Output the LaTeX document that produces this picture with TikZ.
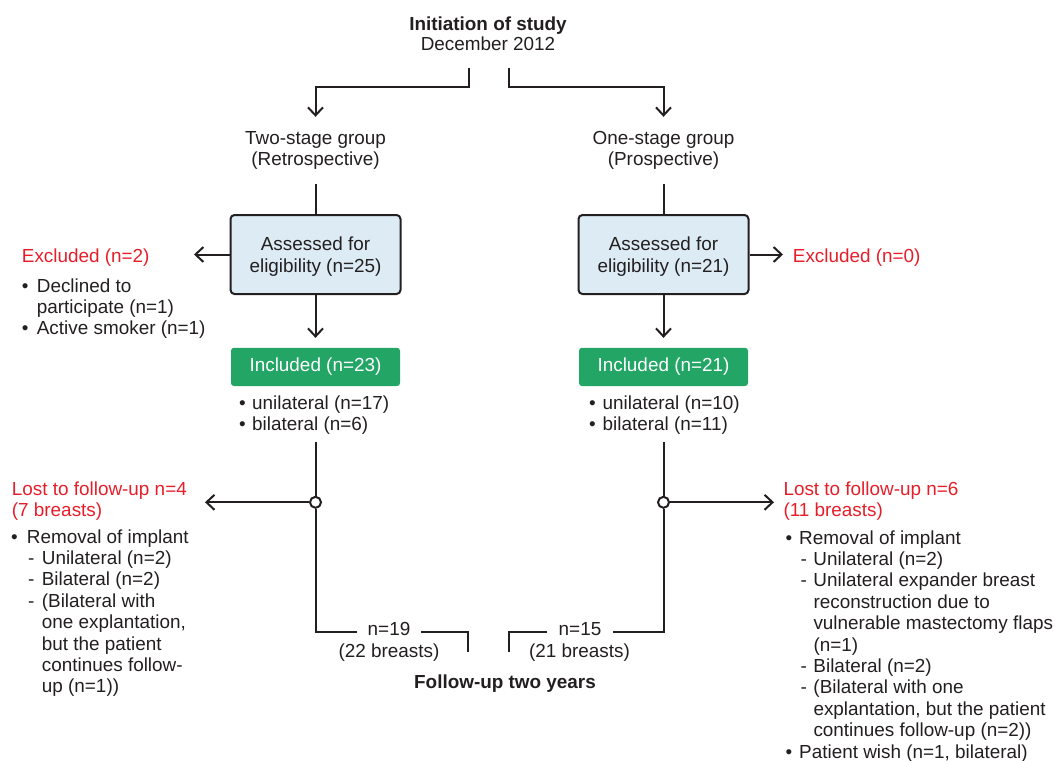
\documentclass[tikz,border=0pt]{standalone}
\usepackage{fontspec}
\setmainfont{Liberation Sans}
\usetikzlibrary{arrows.meta}
\definecolor{ink}{HTML}{231F20}
\definecolor{exred}{HTML}{E61E2A}
\definecolor{incgreen}{HTML}{22A565}
\definecolor{boxblue}{HTML}{DDEBF5}
\newcommand\basefont{\fontsize{18.9}{21.4}\selectfont}
\newcommand\mytab[2][l]{\begin{tabular}[t]{@{}#1@{}}#2\end{tabular}}
\newcommand\bulw[1]{\makebox[#1][l]{\textbullet}}
\newcommand\dshw[1]{\makebox[#1][l]{\hspace{1.3pt}-}}
\begin{document}
\begin{tikzpicture}[x=1pt,y=-1pt,color=ink,
  every node/.style={font=\basefont},
  txt/.style={inner sep=0pt},
  ln/.style={line width=2pt,draw=ink},
  arr/.style={ln,-{Straight Barb[length=8pt,width=15pt]}},
  bluebox/.style={draw=ink,fill=boxblue,rounded corners=4pt,minimum width=170pt,minimum height=79pt,inner sep=0pt,line width=2pt},
  greenbox/.style={fill=incgreen,rounded corners=3pt,minimum width=169pt,minimum height=38.3pt,inner sep=0pt,text=white},
  circ/.style={circle,draw=ink,fill=white,minimum size=11pt,inner sep=0pt,line width=2pt},
  redtxt/.style={txt,text=exred}]
\useasboundingbox (0,0) rectangle (1054,760);

% title
\node[txt,anchor=base,font=\basefont\bfseries] (title) at (488,31) {Initiation of study};
\node[txt,anchor=base] (date) at (488,51) {December 2012};
\coordinate (splitL) at (468.7,68);
\coordinate (splitR) at (508.7,68);

% groups
\node[txt,anchor=base,inner ysep=12pt] (two) at (315.5,144) {\mytab[c]{Two-stage group\\(Retrospective)}};
\node[txt,anchor=base,inner ysep=12pt] (one) at (663.5,144) {\mytab[c]{One-stage group\\(Prospective)}};
\draw[arr] (splitL) -- ++(0,19) -| (two.north);
\draw[arr] (splitR) -- ++(0,19) -| (one.north);

% assessed boxes
\node[bluebox] (asL) at (315.5,254.5) {\raisebox{-2.9pt}[\height][\depth]{\mytab[c]{Assessed for\\eligibility (n=25)}}};
\node[bluebox] (asR) at (663.5,254.5) {\raisebox{-2.9pt}[\height][\depth]{\mytab[c]{Assessed for\\eligibility (n=21)}}};
\draw[ln] (two.south) -- (asL.north);
\draw[ln] (one.south) -- (asR.north);

% excluded
\coordinate (exLtip) at (194,254.5);
\coordinate (exRtip) at (783,254.5);
\draw[arr] (asL.west) -- (exLtip);
\draw[arr] (asR.east) -- (exRtip);
\node[redtxt,anchor=base west] (exL) at (21.7,262) {Excluded (n=2)};
\node[redtxt,anchor=base west] (exR) at (792.7,262) {Excluded (n=0)};
\node[txt,anchor=base west] (exListL) at (21.7,292) {\mytab{\bulw{15pt}Declined to\\\hspace*{15pt}participate (n=1)\\\bulw{15pt}Active smoker (n=1)}};

% included
\node[greenbox] (incL) at (315.5,366.9) {Included (n=23)};
\node[greenbox] (incR) at (663.5,366.9) {Included (n=21)};
\draw[arr,shorten >=9.7pt] (asL.south) -- (incL.north);
\draw[arr,shorten >=9.7pt] (asR.south) -- (incR.north);
\node[txt,anchor=base west] (listIL) at (239,409) {\mytab{\bulw{13pt}unilateral (n=17)\\\bulw{13pt}bilateral (n=6)}};
\node[txt,anchor=base west] (listIR) at (589,409) {\mytab{\bulw{13.5pt}unilateral (n=10)\\\bulw{13.5pt}bilateral (n=11)}};

% left follow-up branch
\coordinate (tL) at (315.5,442);
\node[circ] (cL) at (315.5,502.3) {};
\coordinate (bL) at (315.5,631.7);
\coordinate (lostLtip) at (205,502.3);
\node[txt,anchor=base,inner xsep=11pt] (n19) at (389,635) {n=19};
\node[txt,anchor=base] (b22) at (389,657) {(22 breasts)};
\coordinate (eL) at (468.3,631.7);
\coordinate (eLend) at (468.3,651.7);
\draw[ln] (tL) -- (cL);
\draw[ln] (cL) -- (bL) -- (n19.west |- bL);
\draw[ln] (n19.east |- bL) -- (eL) -- (eLend);
\draw[arr] (cL) -- (lostLtip);

% right follow-up branch
\coordinate (tR) at (663.5,442);
\node[circ] (cR) at (663.5,502.3) {};
\coordinate (bR) at (663.5,631.7);
\coordinate (lostRtip) at (774,502.3);
\node[txt,anchor=base,inner xsep=11.5pt] (n15) at (580,635) {n=15};
\node[txt,anchor=base] (b21) at (579.5,657) {(21 breasts)};
\coordinate (eR) at (509,631.7);
\coordinate (eRend) at (509,651.7);
\draw[ln] (tR) -- (cR);
\draw[ln] (cR) -- (bR) -- (n15.east |- bR);
\draw[ln] (n15.west |- bR) -- (eR) -- (eRend);
\draw[arr] (cR) -- (lostRtip);

\node[txt,anchor=base,font=\basefont\bfseries] (fu) at (505,688) {Follow-up two years};

% lost to follow-up texts
\node[redtxt,anchor=base west] (lostL) at (11.7,495) {\mytab{Lost to follow-up n=4\\(7 breasts)}};
\node[txt,anchor=base west] (lostListL) at (11,543) {\mytab{%
\bulw{15.7pt}Removal of implant\\
\hspace*{15.7pt}\dshw{15pt}Unilateral (n=2)\\
\hspace*{15.7pt}\dshw{15pt}Bilateral (n=2)\\
\hspace*{15.7pt}\dshw{15pt}(Bilateral with\\
\hspace*{30.7pt}one explantation,\\
\hspace*{30.7pt}but the patient\\
\hspace*{30.7pt}continues follow-\\
\hspace*{30.7pt}up (n=1))}};

\node[redtxt,anchor=base west] (lostR) at (783.3,495) {\mytab{Lost to follow-up n=6\\(11 breasts)}};
\node[txt,anchor=base west] (lostListR) at (785.5,544) {\mytab{%
\bulw{13.5pt}Removal of implant\\
\hspace*{13.5pt}\dshw{14.3pt}Unilateral (n=2)\\
\hspace*{13.5pt}\dshw{14.3pt}Unilateral expander breast\\
\hspace*{27.8pt}reconstruction due to\\
\hspace*{27.8pt}vulnerable mastectomy flaps\\
\hspace*{27.8pt}(n=1)\\
\hspace*{13.5pt}\dshw{14.3pt}Bilateral (n=2)\\
\hspace*{13.5pt}\dshw{14.3pt}(Bilateral with one\\
\hspace*{27.8pt}explantation, but the patient\\
\hspace*{27.8pt}continues follow-up (n=2))\\
\bulw{13.5pt}Patient wish (n=1, bilateral)}};
\end{tikzpicture}
\end{document}
